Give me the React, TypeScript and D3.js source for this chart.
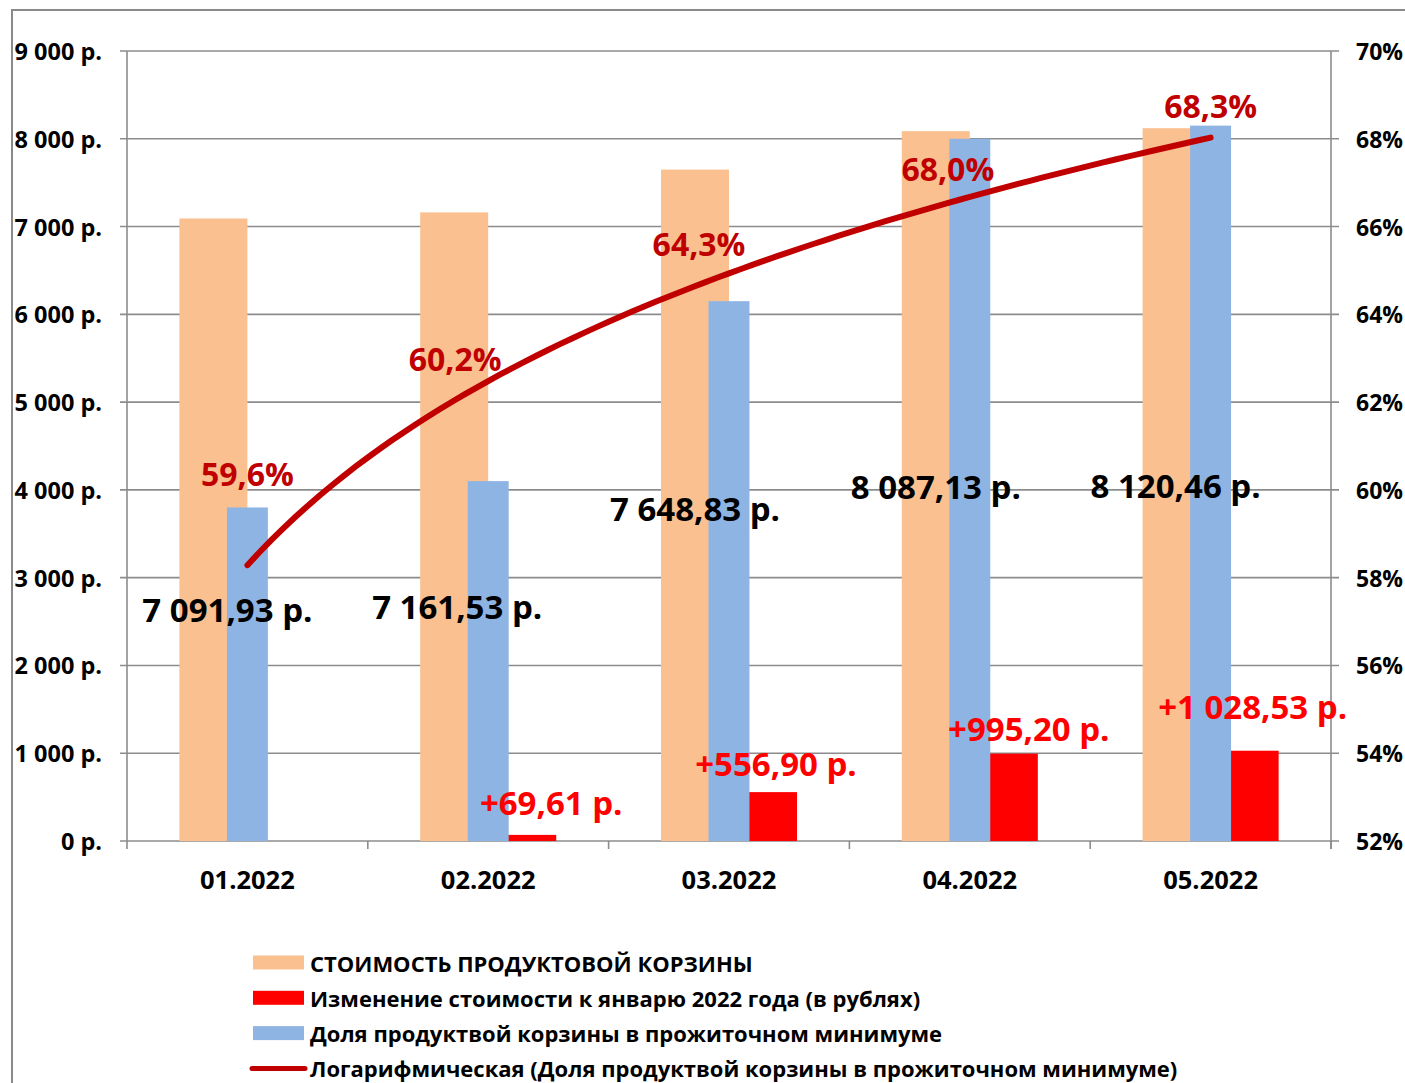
import React from "react";
import * as d3 from "d3";

const categories = ["01.2022", "02.2022", "03.2022", "04.2022", "05.2022"];
const basketCost = [7091.93, 7161.53, 7648.83, 8087.13, 8120.46];
const changeSinceJan = [0, 69.61, 556.9, 995.2, 1028.53];
const sharePct = [59.6, 60.2, 64.3, 68.0, 68.3];

const costLabels = ["7 091,93 р.", "7 161,53 р.", "7 648,83 р.", "8 087,13 р.", "8 120,46 р."];
const shareLabels = ["59,6%", "60,2%", "64,3%", "68,0%", "68,3%"];
const changeLabels = ["", "+69,61 р.", "+556,90 р.", "+995,20 р.", "+1 028,53 р."];

// label placement (dx px from category centre, y in left-axis units)
const costLabelDx = [-20, -31, -34, -34, -35];
const costLabelY = [2632, 2666, 3793, 4040, 4050];
const shareLabelDx = [0, -33, -30, -22, 0];
const shareLabelY = [4191, 5502, 6812, 7660, 8374];
const changeLabelDx = [0, 63, 47, 59, 42];
const changeLabelY = [0, 433, 888, 1276, 1527];

const leftTicks = [0, 1000, 2000, 3000, 4000, 5000, 6000, 7000, 8000, 9000];
const rightTicks = [52, 54, 56, 58, 60, 62, 64, 66, 68, 70];

const legendItems = [
  { label: "СТОИМОСТЬ ПРОДУКТОВОЙ КОРЗИНЫ", kind: "rect", color: "#FAC090" },
  { label: "Изменение стоимости к январю 2022 года (в рублях)", kind: "rect", color: "#FF0000" },
  { label: "Доля продуктвой корзины в прожиточном минимуме", kind: "rect", color: "#8EB4E3" },
  { label: "Логарифмическая (Доля продуктвой корзины в прожиточном минимуме)", kind: "line", color: "#C00000" },
];

const FONT = "'Open Sans', sans-serif";

export default function App() {
  const W = 1405, H = 1083;
  const left = 127, right = 1331, top = 51, bottom = 841;
  const x = d3.scaleBand<string>().domain(categories).range([left, right]).paddingInner(0).paddingOuter(0);
  const bw = x.bandwidth();
  const xc = (i: number) => (x(categories[i]) as number) + bw / 2;
  const xLin = d3.scaleLinear().domain([0.5, categories.length + 0.5]).range([left, right]);
  const yL = d3.scaleLinear().domain([0, 9000]).range([bottom, top]);
  const yR = d3.scaleLinear().domain([52, 70]).range([bottom, top]);

  const primW = bw * 0.2825;
  const secW = bw * 0.17;

  // logarithmic trendline (least squares y = a + b ln x)
  const lx = sharePct.map((_, i) => Math.log(i + 1));
  const mx = d3.mean(lx) as number;
  const my = d3.mean(sharePct) as number;
  const b = d3.sum(lx.map((v, i) => (v - mx) * (sharePct[i] - my))) / d3.sum(lx.map((v) => (v - mx) ** 2));
  const a = my - b * mx;
  const trendPts = d3.range(1, categories.length + 0.0001, 0.05).map((t) => [xLin(t), yR(a + b * Math.log(t))] as [number, number]);
  const trendPath = d3.line()(trendPts) as string;

  const grid = "#8C8C8C";

  return (
    <svg width={W} height={H} style={{ position: "absolute", left: 0, top: 0, background: "#fff" }} fontFamily={FONT}>
      <rect x={12} y={10} width={W + 20} height={H + 20} fill="#fff" stroke="#8A8A8A" strokeWidth={2} />
      {/* gridlines */}
      {leftTicks.map((t) => (
        <line key={"g" + t} x1={left - 7} x2={right + 8} y1={yL(t)} y2={yL(t)} stroke={grid} strokeWidth={1.6} />
      ))}
      {/* axes */}
      <line x1={left} x2={left} y1={top} y2={bottom + 8} stroke={grid} strokeWidth={1.6} />
      <line x1={right} x2={right} y1={top} y2={bottom + 8} stroke={grid} strokeWidth={1.6} />
      {categories.map((c, i) => (
        <line key={"xt" + c} x1={(x(c) as number) + bw} x2={(x(c) as number) + bw} y1={bottom} y2={bottom + 8} stroke={grid} strokeWidth={1.6} />
      ))}
      {/* primary bars */}
      {categories.map((c, i) => (
        <g key={"p" + c}>
          <rect x={xc(i) - primW} y={yL(basketCost[i])} width={primW} height={bottom - yL(basketCost[i])} fill="#FAC090" />
          <rect x={xc(i)} y={yL(changeSinceJan[i])} width={primW} height={bottom - yL(changeSinceJan[i])} fill="#FF0000" />
        </g>
      ))}
      {/* secondary bars */}
      {categories.map((c, i) => (
        <rect key={"s" + c} x={xc(i) - secW / 2} y={yR(sharePct[i])} width={secW} height={bottom - yR(sharePct[i])} fill="#8EB4E3" />
      ))}
      {/* trendline */}
      <path d={trendPath} fill="none" stroke="#C00000" strokeWidth={6} strokeLinecap="round" />
      {/* left ticks labels */}
      {leftTicks.map((t) => (
        <text key={"lt" + t} x={102} y={yL(t)} textAnchor="end" dominantBaseline="central" fontSize={23.5} fontWeight="bold">
          {d3.format(",")(t).replace(/,/g, " ") + " р."}
        </text>
      ))}
      {rightTicks.map((t) => (
        <text key={"rt" + t} x={1356} y={yR(t)} dominantBaseline="central" fontSize={23} fontWeight="bold">
          {t + "%"}
        </text>
      ))}
      {categories.map((c, i) => (
        <text key={"cl" + c} x={xc(i)} y={879} textAnchor="middle" dominantBaseline="central" fontSize={25.5} fontWeight="bold">
          {c}
        </text>
      ))}
      {/* data labels */}
      {categories.map((c, i) => (
        <text key={"cv" + c} x={xc(i) + costLabelDx[i]} y={yL(costLabelY[i])} textAnchor="middle" dominantBaseline="central" fontSize={33} fontWeight="bold" fill="#000">
          {costLabels[i]}
        </text>
      ))}
      {categories.map((c, i) => (
        <text key={"sv" + c} x={xc(i) + shareLabelDx[i]} y={yL(shareLabelY[i])} textAnchor="middle" dominantBaseline="central" fontSize={32} fontWeight="bold" fill="#C00000">
          {shareLabels[i]}
        </text>
      ))}
      {categories.map((c, i) =>
        changeLabels[i] ? (
          <text key={"chv" + c} x={xc(i) + changeLabelDx[i]} y={yL(changeLabelY[i])} textAnchor="middle" dominantBaseline="central" fontSize={33} fontWeight="bold" fill="#FF0000">
            {changeLabels[i]}
          </text>
        ) : null
      )}
      {/* legend */}
      {legendItems.map((it, i) => {
        const cy = 962.5 + i * 35.3;
        return (
          <g key={"lg" + i}>
            {it.kind === "rect" ? (
              <rect x={253} y={cy - 7} width={51} height={14} fill={it.color} />
            ) : (
              <line x1={252} x2={305} y1={cy} y2={cy} stroke={it.color} strokeWidth={5} strokeLinecap="round" />
            )}
            <text x={310} y={cy} dominantBaseline="central" fontSize={22} fontWeight="bold">
              {it.label}
            </text>
          </g>
        );
      })}
    </svg>
  );
}
